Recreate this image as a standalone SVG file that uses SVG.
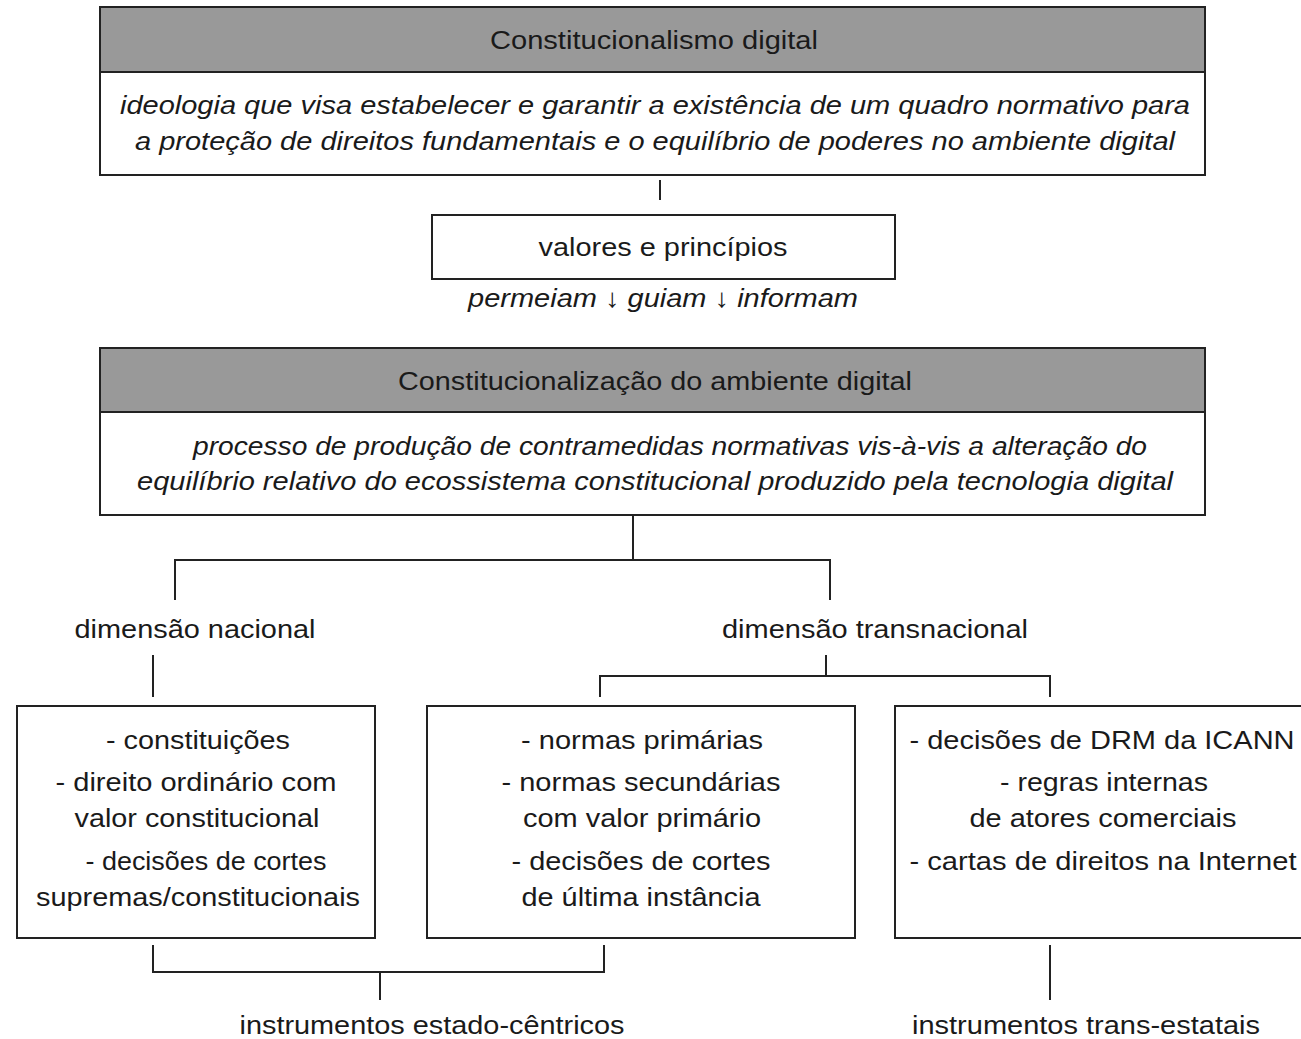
<svg xmlns="http://www.w3.org/2000/svg" width="1301" height="1039" viewBox="0 0 1301 1039">
<style>
.box{fill:#fff;stroke:#222;stroke-width:2}
.hdr{fill:#999;stroke:#222;stroke-width:2}
.t{font-family:"Liberation Sans",Arial,sans-serif;font-size:26px;fill:#1a1a1a;text-anchor:middle}
.n{font-family:"Liberation Sans",Arial,sans-serif;font-size:26px;fill:#1a1a1a;text-anchor:middle}
.i{font-style:italic}
.c{fill:none;stroke:#222;stroke-width:2}
</style>
<rect width="1301" height="1039" fill="#fff"/>
<g id="constitucionalismo">
<rect class="box" x="100" y="7" width="1105" height="168"/>
<rect class="hdr" x="100" y="7" width="1105" height="65"/>
<text class="t" x="654" y="49" textLength="328" lengthAdjust="spacingAndGlyphs">Constitucionalismo digital</text>
<text class="t i" x="655" y="114" textLength="1070" lengthAdjust="spacingAndGlyphs">ideologia que visa estabelecer e garantir a existência de um quadro normativo para</text>
<text class="t i" x="655" y="150" textLength="1040" lengthAdjust="spacingAndGlyphs">a proteção de direitos fundamentais e o equilíbrio de poderes no ambiente digital</text>
</g>
<g id="valores">
<rect class="box" x="432" y="215" width="463" height="64"/>
<text class="n" x="663" y="256" textLength="249" lengthAdjust="spacingAndGlyphs">valores e princípios</text>
</g>
<g id="verbos">
<text class="n i" x="663" y="307" textLength="390" lengthAdjust="spacingAndGlyphs">permeiam ↓ guiam ↓ informam</text>
</g>
<g id="constitucionalizacao">
<rect class="box" x="100" y="348" width="1105" height="167"/>
<rect class="hdr" x="100" y="348" width="1105" height="64"/>
<text class="t" x="655" y="390" textLength="514" lengthAdjust="spacingAndGlyphs">Constitucionalização do ambiente digital</text>
<text class="t i" x="670" y="455" textLength="954" lengthAdjust="spacingAndGlyphs">processo de produção de contramedidas normativas vis-à-vis a alteração do</text>
<text class="t i" x="655" y="490" textLength="1036" lengthAdjust="spacingAndGlyphs">equilíbrio relativo do ecossistema constitucional produzido pela tecnologia digital</text>
</g>
<g id="dim-nacional">
<text class="t" x="195" y="638" textLength="241" lengthAdjust="spacingAndGlyphs">dimensão nacional</text>
</g>
<g id="dim-transnacional">
<text class="t" x="875" y="638" textLength="306" lengthAdjust="spacingAndGlyphs">dimensão transnacional</text>
</g>
<g id="nacional-box">
<rect class="box" x="17" y="706" width="358" height="232"/>
<text class="n" x="198" y="749" textLength="184" lengthAdjust="spacingAndGlyphs">- constituições</text>
<text class="n" x="196" y="791" textLength="281" lengthAdjust="spacingAndGlyphs">- direito ordinário com</text>
<text class="n" x="197" y="827" textLength="245" lengthAdjust="spacingAndGlyphs">valor constitucional</text>
<text class="n" x="206" y="870" textLength="241" lengthAdjust="spacingAndGlyphs">- decisões de cortes</text>
<text class="n" x="198" y="906" textLength="324" lengthAdjust="spacingAndGlyphs">supremas/constitucionais</text>
</g>
<g id="transnacional-box">
<rect class="box" x="427" y="706" width="428" height="232"/>
<text class="n" x="642" y="749" textLength="242" lengthAdjust="spacingAndGlyphs">- normas primárias</text>
<text class="n" x="641" y="791" textLength="279" lengthAdjust="spacingAndGlyphs">- normas secundárias</text>
<text class="n" x="642" y="827" textLength="238" lengthAdjust="spacingAndGlyphs">com valor primário</text>
<text class="n" x="641" y="870" textLength="259" lengthAdjust="spacingAndGlyphs">- decisões de cortes</text>
<text class="n" x="641" y="906" textLength="239" lengthAdjust="spacingAndGlyphs">de última instância</text>
</g>
<g id="trans-estatal-box">
<rect class="box" x="895" y="706" width="420" height="232"/>
<text class="n" x="1102" y="749" textLength="385" lengthAdjust="spacingAndGlyphs">- decisões de DRM da ICANN</text>
<text class="n" x="1104" y="791" textLength="208" lengthAdjust="spacingAndGlyphs">- regras internas</text>
<text class="n" x="1103" y="827" textLength="267" lengthAdjust="spacingAndGlyphs">de atores comerciais</text>
<text class="n" x="1103" y="870" textLength="387" lengthAdjust="spacingAndGlyphs">- cartas de direitos na Internet</text>
</g>
<g id="estado-centricos">
<text class="t" x="432" y="1034" textLength="385" lengthAdjust="spacingAndGlyphs">instrumentos estado-cêntricos</text>
</g>
<g id="trans-estatais">
<text class="t" x="1086" y="1034" textLength="348" lengthAdjust="spacingAndGlyphs">instrumentos trans-estatais</text>
</g>
<g id="connectors">
<path class="c" d="M660 180V200"/>
<path class="c" d="M633 515V560M175 600V560H830V600"/>
<path class="c" d="M153 655V697"/>
<path class="c" d="M826 655V676M600 697V676H1050V697"/>
<path class="c" d="M153 945V972H604V945M380 972V1000"/>
<path class="c" d="M1050 945V1000"/>
</g>
</svg>
